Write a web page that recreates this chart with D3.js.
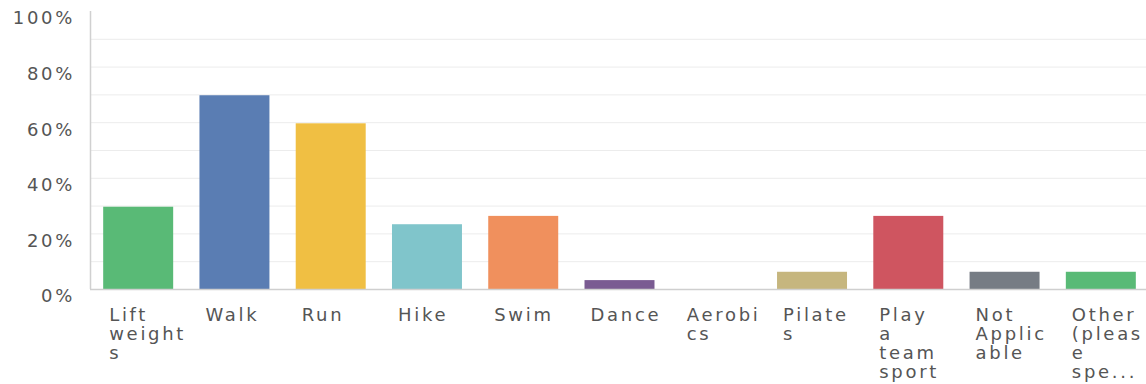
<!DOCTYPE html>
<html>
<head>
<meta charset="utf-8">
<script src="https://cdn.jsdelivr.net/npm/d3@7"></script>
<style>
  body { margin: 0; background: #fff; }
  #chart text { font-family: "DejaVu Sans", sans-serif; fill: #555; letter-spacing: 2.7px; }
</style>
</head>
<body>
<div id="chart"></div>
<script>
'use strict';

const categories = ['Lift weights', 'Walk', 'Run', 'Hike', 'Swim', 'Dance', 'Aerobics',
  'Pilates', 'Play a team sport', 'Not Applicable', 'Other (please specify)'];
// wrapped lines as they appear under each bar
const labelLines = [
  ['Lift', 'weight', 's'], ['Walk'], ['Run'], ['Hike'], ['Swim'], ['Dance'],
  ['Aerobi', 'cs'], ['Pilate', 's'], ['Play', 'a', 'team', 'sport'],
  ['Not', 'Applic', 'able'], ['Other', '(pleas', 'e', 'spe...']
];
const values = [29.6, 69.7, 59.6, 23.3, 26.3, 3.2, 0, 6.2, 26.3, 6.2, 6.2];
const colors = ['#59ba76', '#5a7db3', '#f0bf43', '#80c5cb', '#f0905d', '#7a5b92',
  '#9c9c9c', '#c6b67e', '#cf5560', '#767c84', '#59ba76'];
const yTicks = [0, 20, 40, 60, 80, 100];
const gridTicks = [10, 20, 30, 40, 50, 60, 70, 80, 90];

const width = 1146, height = 384;
const padLeft = 90, padTop = 11, baseY = 289;

const svg = d3.select('#chart').append('svg')
  .attr('width', width)
  .attr('height', height);

const x = d3.scaleBand()
  .domain(categories)
  .range([padLeft, 1149])
  .paddingInner(0.273)
  .paddingOuter(0.137);
const y = d3.scaleLinear().domain([0, 100]).range([baseY, padTop]);

// gridlines
svg.append('g').selectAll('line').data(gridTicks).enter()
  .append('line')
  .attr('x1', padLeft).attr('x2', width)
  .attr('y1', d => y(d) + 0.5).attr('y2', d => y(d) + 0.5)
  .attr('stroke', '#ececec');

// y labels (trailing letter-spacing pushes them left, so nudge x)
svg.append('g').selectAll('text').data(yTicks).enter()
  .append('text')
  .attr('x', 75)
  .attr('y', d => y(d) + 7)
  .attr('dy', '0.35em')
  .attr('text-anchor', 'end')
  .style('font-size', '18px')
  .text(d => d + '%');

// bars
svg.append('g').selectAll('rect').data(values).enter()
  .append('rect')
  .attr('x', (d, i) => x(categories[i]))
  .attr('width', x.bandwidth())
  .attr('y', d => y(d))
  .attr('height', d => baseY - y(d))
  .attr('fill', (d, i) => colors[i]);

// axis lines
svg.append('line')
  .attr('x1', padLeft + 0.5).attr('x2', padLeft + 0.5)
  .attr('y1', padTop).attr('y2', baseY)
  .attr('stroke', '#d0d0d0').attr('stroke-width', 1.5);
svg.append('line')
  .attr('x1', padLeft).attr('x2', width)
  .attr('y1', baseY + 0.5).attr('y2', baseY + 0.5)
  .attr('stroke', '#cfcfcf').attr('stroke-width', 1.5);

// category labels
const labels = svg.append('g').selectAll('text').data(categories).enter()
  .append('text')
  .attr('x', d => x(d) + 6)
  .attr('y', 321)
  .style('font-size', '18px');

labels.selectAll('tspan').data((d, i) => labelLines[i]).enter()
  .append('tspan')
  .attr('x', function() { return d3.select(this.parentNode).attr('x'); })
  .attr('dy', (d, i) => i === 0 ? 0 : 19)
  .text(d => d);
</script>
</body>
</html>
